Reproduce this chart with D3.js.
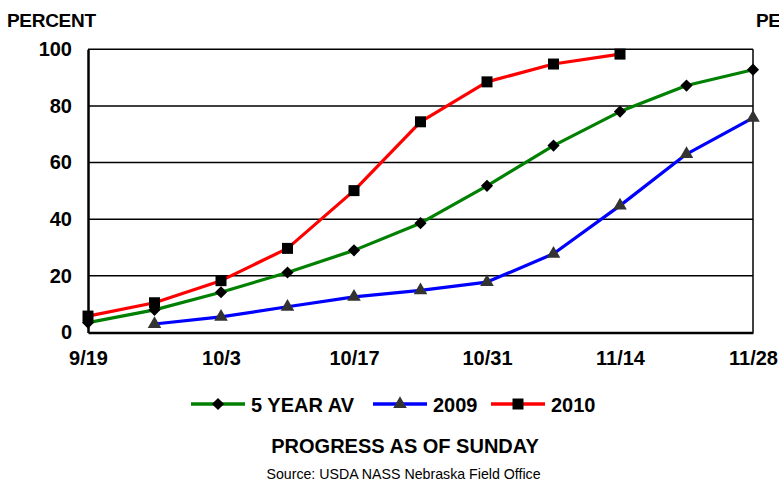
<!DOCTYPE html>
<html><head><meta charset="utf-8">
<script src="https://cdn.jsdelivr.net/npm/d3@7/dist/d3.min.js"></script>
<style>
html,body{margin:0;padding:0;background:#fff;}
text{font-family:"Liberation Sans",Arial,sans-serif;}
</style></head>
<body>
<svg id="chart" width="779" height="481"></svg>
<script>
const weeks = ["2010-09-19","2010-09-26","2010-10-03","2010-10-10","2010-10-17","2010-10-24","2010-10-31","2010-11-07","2010-11-14","2010-11-21","2010-11-28"];
const fiveYearAvg = [3.5, 8, 14.2, 21.2, 29, 38.6, 51.8, 66, 78, 87.2, 92.8];
const y2009 = [null, 3, 5.5, 9.1, 12.6, 14.9, 17.8, 27.8, 44.8, 63, 75.8];
const y2010 = [5.8, 10.5, 18.3, 29.7, 50.1, 74.4, 88.5, 94.8, 98.3, null, null];
const xTickDates = ["2010-09-19","2010-10-03","2010-10-17","2010-10-31","2010-11-14","2010-11-28"];
const xTickLabels = ["9/19","10/3","10/17","10/31","11/14","11/28"];
const yTicks = [0, 20, 40, 60, 80, 100];
const seriesNames = ["5 YEAR AV", "2009", "2010"];

const parse = d3.timeParse("%Y-%m-%d");
const dates = weeks.map(parse);
const svg = d3.select("#chart");

const x = d3.scaleTime().domain([parse("2010-09-19"), parse("2010-11-28")]).range([88, 753]);
const y = d3.scaleLinear().domain([0, 100]).range([332.5, 49.3]);

// gridlines
svg.append("g").selectAll("line").data(yTicks.filter(d => d > 0)).join("line")
  .attr("x1", x.range()[0]).attr("x2", x.range()[1])
  .attr("y1", d => y(d)).attr("y2", d => y(d))
  .attr("stroke", "#000").attr("stroke-width", 1.5);

// right border
svg.append("line").attr("x1", 753).attr("x2", 753).attr("y1", y(100)).attr("y2", y(0))
  .attr("stroke", "#000").attr("stroke-width", 1.5);

// y axis
const yAxis = d3.axisLeft(y).tickValues(yTicks).tickSize(0).tickPadding(16).tickFormat(d3.format("d"));
const gy = svg.append("g").attr("transform", `translate(${x.range()[0]},0)`).call(yAxis);
gy.select(".domain").attr("stroke", "#000").attr("stroke-width", 2.5);
gy.selectAll("text").attr("font-size", 20).attr("font-weight", "bold").attr("fill", "#000")
  .attr("font-family", "Liberation Sans, Arial, sans-serif");

// x axis
const xAxis = d3.axisBottom(x).tickValues(xTickDates.map(parse)).tickSize(0).tickPadding(18)
  .tickFormat((d, i) => xTickLabels[i]);
const gx = svg.append("g").attr("transform", `translate(0,${y(0)})`).call(xAxis);
gx.select(".domain").attr("stroke", "#000").attr("stroke-width", 2.5);
gx.selectAll("text").attr("font-size", 20).attr("font-weight", "bold").attr("fill", "#000")
  .attr("font-family", "Liberation Sans, Arial, sans-serif");

// axis titles
svg.append("text").attr("x", 7).attr("y", 27).attr("font-size", 19).attr("font-weight", "bold")
  .attr("letter-spacing", -0.3).text("PERCENT");
svg.append("text").attr("x", 756).attr("y", 27).attr("font-size", 19).attr("font-weight", "bold")
  .attr("letter-spacing", -0.3).text("PERCENT");

const colors = ["#008000", "#0000ff", "#ff0000"];
const symbols = [
  d3.symbol().type(d3.symbolSquare).size(74),
  d3.symbol().type(d3.symbolTriangle).size(80),
  d3.symbol().type(d3.symbolSquare).size(121)
];
const rotations = [45, 0, 0];
const markerFill = ["#000", "#333", "#000"];
const allSeries = [fiveYearAvg, y2009, y2010];

const line = d3.line().defined(d => d.v != null).x(d => x(d.date)).y(d => y(d.v));

allSeries.forEach((vals, si) => {
  const pts = vals.map((v, i) => ({date: dates[i], v}));
  svg.append("path").datum(pts).attr("d", line)
    .attr("fill", "none").attr("stroke", colors[si]).attr("stroke-width", 3.2).attr("stroke-linejoin", "round");
  svg.append("g").selectAll("path").data(pts.filter(d => d.v != null)).join("path")
    .attr("d", symbols[si])
    .attr("transform", d => `translate(${x(d.date)},${y(d.v)}) rotate(${rotations[si]})`)
    .attr("fill", markerFill[si]);
});

// legend
const legendItems = [
  {lx1: 191, lx2: 245, mx: 218, tx: 251},
  {lx1: 373, lx2: 427, mx: 400, tx: 433},
  {lx1: 491, lx2: 545, mx: 518, tx: 551}
];
const ly = 404;
const lg = svg.append("g");
legendItems.forEach((it, si) => {
  lg.append("line").attr("x1", it.lx1).attr("x2", it.lx2).attr("y1", ly).attr("y2", ly)
    .attr("stroke", colors[si]).attr("stroke-width", 3.5);
  lg.append("path").attr("d", symbols[si]).attr("transform", `translate(${it.mx},${ly}) rotate(${rotations[si]})`)
    .attr("fill", markerFill[si]);
  lg.append("text").attr("x", it.tx).attr("y", ly + 7.5).attr("font-size", 20).attr("font-weight", "bold")
    .text(seriesNames[si]);
});

svg.append("text").attr("x", 405).attr("y", 453).attr("text-anchor", "middle")
  .attr("font-size", 20).attr("font-weight", "bold").text("PROGRESS AS OF SUNDAY");
svg.append("text").attr("x", 403.5).attr("y", 479).attr("text-anchor", "middle")
  .attr("font-size", 14.2).text("Source: USDA NASS Nebraska Field Office");
</script>
</body></html>
